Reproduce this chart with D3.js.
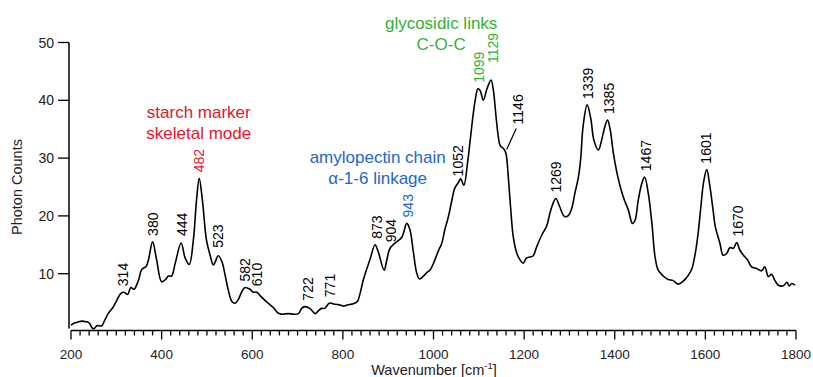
<!DOCTYPE html>
<html>
<head>
<meta charset="utf-8">
<script src="https://cdn.jsdelivr.net/npm/d3@7"></script>
<style>
  html, body { margin: 0; padding: 0; background: #fff; }
  svg { display: block; font-family: Arial, "Liberation Sans", sans-serif; }
</style>
</head>
<body>
<svg id="chart" width="813" height="377"></svg>
<script>
// ---- data ----
const wavenumbers = [200,209,214,224,233,240,247,251,257,268,273,282,292,301,310,317,325,332,339,349,356,366,371,380,389,400,410,415,422,430,443,452,461,470,477,483,490,499,507,514,518,525,533,540,547,555,562,569,577,584,595,602,610,621,635,647,657,665,680,690,702,709,716,727,739,746,753,760,770,783,794,801,810,823,832,838,845,853,860,871,878,891,897,904,915,930,941,948,955,963,969,978,985,992,1000,1011,1018,1025,1033,1040,1047,1055,1060,1067,1075,1081,1087,1092,1098,1103,1110,1118,1127,1132,1138,1143,1147,1156,1160,1165,1170,1176,1184,1191,1198,1205,1213,1220,1228,1239,1250,1257,1263,1270,1279,1289,1298,1305,1312,1320,1325,1330,1339,1347,1354,1364,1371,1378,1384,1390,1397,1405,1412,1421,1430,1439,1445,1452,1460,1466,1474,1482,1489,1496,1507,1518,1529,1540,1551,1562,1570,1577,1584,1590,1596,1603,1610,1617,1622,1632,1639,1647,1654,1662,1669,1676,1684,1693,1702,1713,1724,1731,1739,1746,1753,1761,1772,1780,1785,1791,1798];
const photonCounts = [1.1,1.5,1.6,1.8,1.7,1.5,0.6,0.5,1.0,1.0,1.7,3.1,4.1,5.4,6.6,6.8,6.4,7.6,7.3,8.9,10.7,11.3,12.4,15.5,12.4,8.6,9.1,9.6,9.6,11.8,15.3,12.7,11.6,15.8,22.7,26.5,22.7,15.8,13.2,11.5,12.0,13.1,12.1,9.8,7.2,5.2,4.9,5.5,6.9,7.6,7.3,6.8,6.8,5.9,4.9,4.1,3.2,3.0,3.1,3.0,3.1,4.0,4.3,4.0,3.1,3.6,4.0,4.0,4.9,4.7,4.6,4.4,4.6,4.8,5.2,6.6,8.9,10.9,12.5,15.0,13.8,10.6,12.4,14.4,15.3,16.3,18.7,17.6,14.1,10.1,9.1,9.6,10.2,10.6,11.8,14.0,15.2,17.6,19.9,22.5,24.8,25.8,26.4,25.3,29.1,33.1,37.2,40.0,42.0,41.7,40.0,42.0,43.5,41.8,37.2,33.7,32.2,31.5,30.8,26.8,21.6,16.4,13.5,12.4,11.8,12.7,12.9,13.1,14.7,16.7,18.3,20.5,22.0,23.0,21.5,19.9,20.1,21.3,23.9,26.8,30.0,35.4,39.2,36.9,33.1,31.4,33.1,35.4,36.6,34.9,30.8,27.4,25.1,22.8,21.0,18.7,19.3,22.8,25.7,26.7,23.9,18.7,12.9,10.6,9.6,9.0,8.8,8.2,8.7,9.7,10.8,13.2,17.0,21.5,25.8,28.0,25.1,21.0,18.1,15.3,13.2,13.5,14.5,14.4,15.4,14.1,13.2,12.4,11.2,10.9,10.5,11.2,9.5,9.9,8.9,8.0,7.9,8.5,7.9,8.3,8.0];

const xTicks = [200,400,600,800,1000,1200,1400,1600,1800];
const yTicks = [10,20,30,40,50];

const peakLabels = ["314","380","444","482","523","582","610","722","771","873","904","943","1052","1099","1129","1146","1269","1339","1385","1467","1601","1670"];
const peakColors = {"482":"red","943":"blue","1099":"green","1129":"green"};

const annotations = [
  {lines:["starch marker","skeletal mode"], at:482, color:"red"},
  {lines:["amylopectin chain","α-1-6 linkage"], at:943, color:"blue"},
  {lines:["glycosidic links","C-O-C"], at:1114, color:"green"}
];

const palette = {red:"#e4162c", blue:"#2266cc", green:"#33b233", black:"#000"};

// ---- chart ----
const svg = d3.select("#chart");
const x = d3.scaleLinear().domain([200,1800]).range([71,796]);
const y = d3.scaleLinear().domain([0,50]).range([331.5,42.5]);

const data = wavenumbers.map((w,i)=>({w, v:photonCounts[i]}));

// axes
const xAxisY = 330.5;
const gx = svg.append("g").attr("transform",`translate(0,${xAxisY})`);
gx.append("line").attr("x1",x(200)).attr("x2",x(1800)).attr("y1",0).attr("y2",0)
  .attr("stroke","#000").attr("stroke-width",1.5);
const minor = d3.range(200,1801,20);
gx.selectAll("line.tick").data(minor).join("line")
  .attr("x1",d=>x(d)).attr("x2",d=>x(d))
  .attr("y1",0).attr("y2",d=> d%200===0 ? 9 : 5)
  .attr("stroke","#000").attr("stroke-width",1.3);
gx.selectAll("text").data(xTicks).join("text")
  .attr("x",d=>x(d)).attr("y",28).attr("text-anchor","middle")
  .attr("font-size",13.5).attr("fill","#222").text(d=>d);

const yAxisX = 69;
const gy = svg.append("g").attr("transform",`translate(${yAxisX},0)`);
gy.append("line").attr("x1",0).attr("x2",0).attr("y1",y(50)).attr("y2",y(0.5))
  .attr("stroke","#000").attr("stroke-width",1.5);
gy.selectAll("line.tick").data(yTicks).join("line")
  .attr("x1",-11).attr("x2",0).attr("y1",d=>y(d)).attr("y2",d=>y(d))
  .attr("stroke","#000").attr("stroke-width",1.3);
gy.selectAll("text").data(yTicks).join("text")
  .attr("x",-15).attr("y",d=>y(d)).attr("dy","0.36em").attr("text-anchor","end")
  .attr("font-size",14).attr("fill","#222").text(d=>d);

// axis titles
svg.append("text").attr("transform",`translate(22,${(y(50)+y(0))/2}) rotate(-90)`)
  .attr("text-anchor","middle").attr("font-size",14.5).attr("fill","#222").text("Photon Counts");
const xt = svg.append("text").attr("x",434).attr("y",374.5).attr("text-anchor","middle")
  .attr("font-size",14.5).attr("fill","#222");
xt.append("tspan").text("Wavenumber [cm");
xt.append("tspan").attr("font-size",9.5).attr("dy",-6).text("-1");
xt.append("tspan").attr("dy",6).text("]");

// spectrum
const line = d3.line().x(d=>x(d.w)).y(d=>y(d.v)).curve(d3.curveCatmullRom.alpha(0.5));
svg.append("path").datum(data).attr("d",line)
  .attr("fill","none").attr("stroke","#000").attr("stroke-width",1.6).attr("stroke-linejoin","round");

// curve helpers
function localMax(w, win){
  const pts = data.filter(d=>Math.abs(d.w-w)<=win);
  return d3.max(pts,d=>d.v);
}
function valueAt(w){
  const i = d3.bisector(d=>d.w).left(data,w);
  if(i<=0) return data[0].v;
  const a=data[i-1], b=data[i];
  return a.v + (b.v-a.v)*(w-a.w)/(b.w-a.w);
}

// peak labels
const labelSize = 14;
const extraLift = {"1129":11, "523":2, "444":1};
peakLabels.forEach(lbl=>{
  const w = +lbl;
  if(lbl==="1146"){
    const wc = 1157, wl = 1187;
    const yc = y(valueAt(wc));
    const bottom = yc - 21;
    svg.append("line").attr("x1",x(wc)+2).attr("y1",yc-1)
      .attr("x2",x(wl)-2).attr("y2",bottom-1)
      .attr("stroke","#000").attr("stroke-width",1.2);
    svg.append("text").attr("transform",`translate(${x(wl)},${bottom-5}) rotate(-90)`)
      .attr("dy","0.36em").attr("font-size",labelSize).attr("fill","#000").text(lbl);
    return;
  }
  const v = localMax(w, 7);
  const bottom = y(v) - 6 - (extraLift[lbl]||0);
  svg.append("text").attr("transform",`translate(${x(w)+0.5},${bottom}) rotate(-90)`)
    .attr("dy","0.36em").attr("font-size",labelSize)
    .attr("fill", palette[peakColors[lbl]||"black"]).text(lbl);
});

// annotations
const annotOffset = {"482":[0,-60], "943":[-30,-60], "1114":[-44,-51]};
annotations.forEach(a=>{
  const top = y(localMax(a.at, 20));
  const off = annotOffset[String(a.at)];
  const cx = x(a.at) + off[0];
  const base = top + off[1];
  a.lines.forEach((t,i)=>{
    svg.append("text").attr("x",cx).attr("y",base + i*20.5)
      .attr("text-anchor","middle").attr("font-size",17)
      .attr("fill",palette[a.color]).text(t);
  });
});
</script>
</body>
</html>
